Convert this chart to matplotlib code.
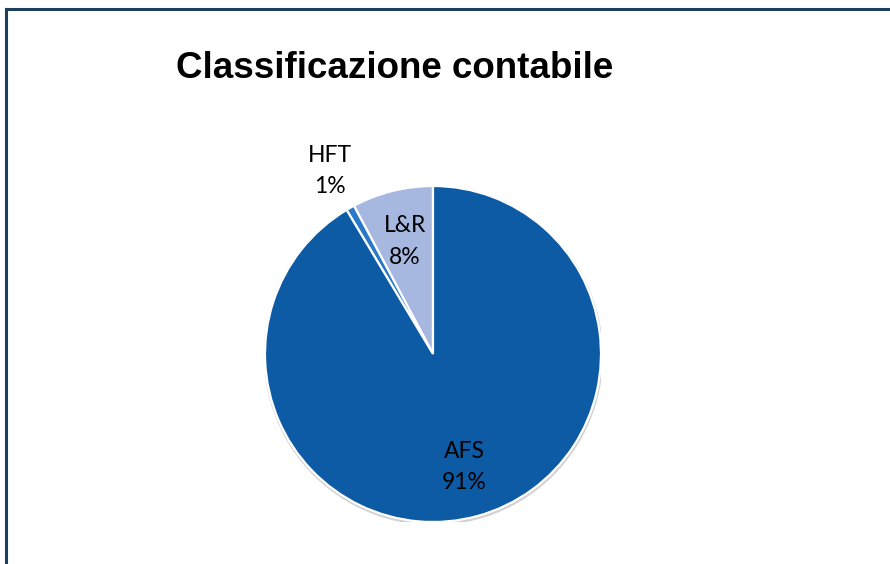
import numpy as np
import matplotlib.pyplot as plt
from matplotlib.patches import Circle

# data
categories = ["L&R", "HFT", "AFS"]
shares = [7.8, 0.8, 91.4]
colors = ["#a6b8e0", "#2a78c8", "#0d5aa5"]
label_dist = [0.69, 1.25, 0.70]

fig = plt.figure(figsize=(8.9, 5.64), dpi=100)

# frame lines (left and top only visible in the original)
fig.add_artist(plt.Line2D([6 / 890, 6 / 890], [0, 1 - 9 / 564], color="#1f3d5e", lw=2.2))
fig.add_artist(plt.Line2D([6 / 890, 1], [1 - 9 / 564, 1 - 9 / 564], color="#1f3d5e", lw=2.2))

# pie axes: centre ~ (433, 354) px, radius ~ 168 px
cx, cy, r = 433, 354, 168
ax = fig.add_axes([(cx - r) / 890, (564 - cy - r) / 564, 2 * r / 890, 2 * r / 564])

# soft grey rim like the excel shadow
ax.add_patch(Circle((0.003, -0.01), 1.0, facecolor="none", edgecolor="#d2d2d2", lw=2.2, zorder=0))

wedges, _ = ax.pie(shares, colors=colors, startangle=90, counterclock=True,
                   wedgeprops=dict(edgecolor="white", linewidth=1.6))

for w, name, val, d in zip(wedges, categories, shares, label_dist):
    mid = np.deg2rad((w.theta1 + w.theta2) / 2)
    ax.text(d * np.cos(mid), d * np.sin(mid), f"{name}\n{round(val)}%",
            ha="center", va="center", fontsize=16.5, family="Lato",
            color="black", linespacing=1.6)

ax.set_xlim(-1, 1)
ax.set_ylim(-1, 1)
ax.set_aspect("equal")
ax.axis("off")

fig.text(395 / 890, 1 - 68 / 564, "Classificazione contabile", ha="center", va="center",
         fontsize=26.5, fontweight="bold", family="Liberation Sans")

fig.savefig("out.png", dpi=100)
